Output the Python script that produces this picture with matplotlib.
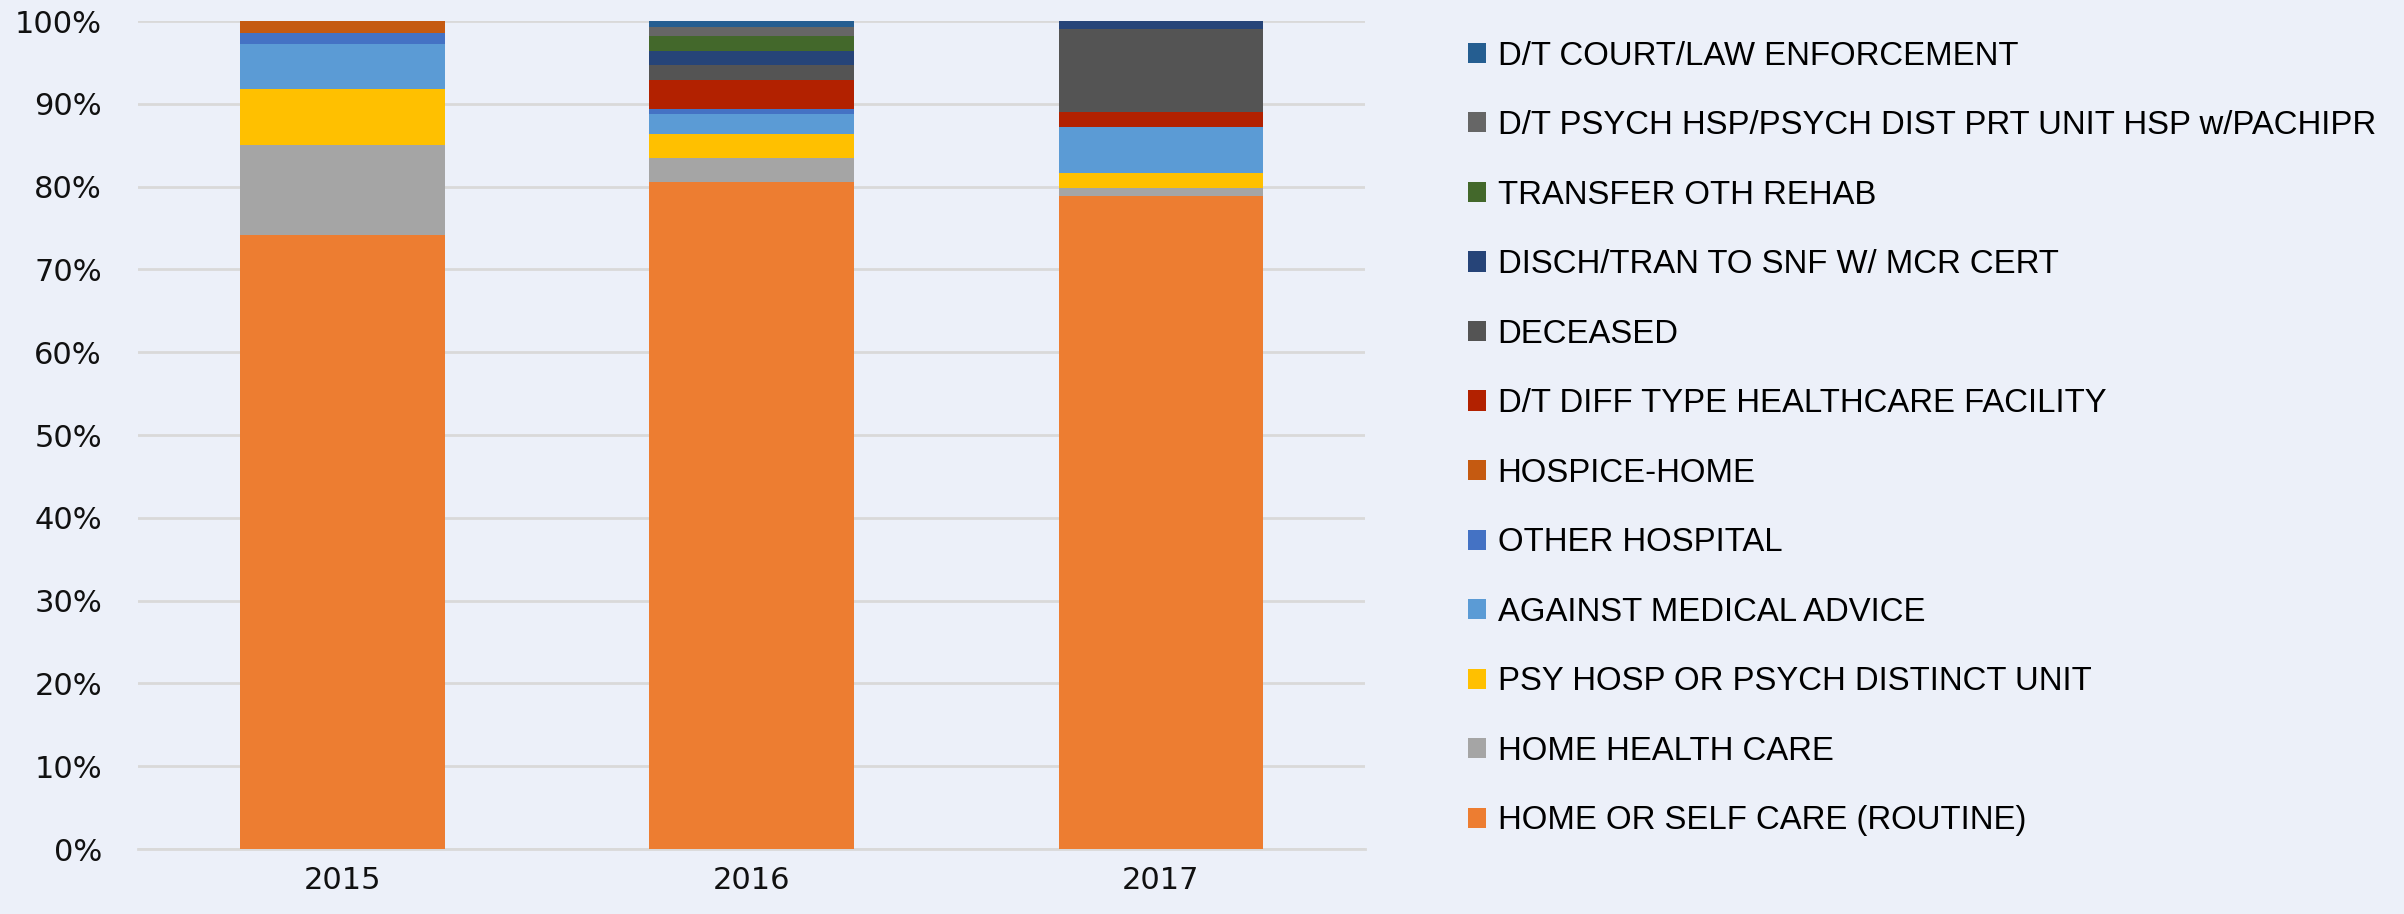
import numpy as np
import matplotlib.pyplot as plt
from matplotlib.patches import Patch
from matplotlib.ticker import PercentFormatter

# Données (en %), ordre d'empilement du bas vers le haut
annees = ['2015', '2016', '2017']
categories = [
    'HOME OR SELF CARE (ROUTINE)',
    'HOME HEALTH CARE',
    'PSY HOSP OR PSYCH DISTINCT UNIT',
    'AGAINST MEDICAL ADVICE',
    'OTHER HOSPITAL',
    'HOSPICE-HOME',
    'D/T DIFF TYPE HEALTHCARE FACILITY',
    'DECEASED',
    'DISCH/TRAN TO SNF W/ MCR CERT',
    'TRANSFER OTH REHAB',
    'D/T PSYCH HSP/PSYCH DIST PRT UNIT HSP w/PACHIPR',
    'D/T COURT/LAW ENFORCEMENT',
]
home_self = [74.2, 80.6, 78.9]
home_health = [10.8, 2.9, 0.9]
psy_hosp = [6.8, 2.9, 1.9]
ama = [5.4, 2.4, 5.5]
other_hosp = [1.3, 0.6, 0.0]
hospice = [1.5, 0.0, 0.0]
diff_type = [0.0, 3.5, 1.8]
deceased = [0.0, 1.8, 10.0]
snf = [0.0, 1.7, 1.0]
rehab = [0.0, 1.8, 0.0]
psych_hsp = [0.0, 1.1, 0.0]
court = [0.0, 0.7, 0.0]
series = [home_self, home_health, psy_hosp, ama, other_hosp, hospice,
          diff_type, deceased, snf, rehab, psych_hsp, court]
couleurs = ['#ED7D31', '#A5A5A5', '#FFC000', '#5B9BD5', '#4472C4', '#C55A11',
            '#B22100', '#545454', '#264478', '#43682B', '#666666', '#255E91']

fond = '#ECF0F9'
plt.rcParams['font.family'] = ['Liberation Sans', 'DejaVu Sans']

fig = plt.figure(figsize=(24.04, 9.14), dpi=100, facecolor=fond)
ax = fig.add_axes([0.0574, 0.0711, 0.5106, 0.9059])
ax.set_facecolor(fond)

x = np.arange(len(annees))
bas = np.zeros(len(annees))
for vals, c in zip(series, couleurs):
    vals = np.array(vals, dtype=float)
    ax.bar(x, vals, 0.5, bottom=bas, color=c, edgecolor='none', zorder=3)
    bas += vals

ax.set_xlim(-0.5, 2.5)
ax.set_ylim(0, 100)
ax.set_yticks(np.arange(0, 101, 10))
ax.yaxis.set_major_formatter(PercentFormatter(decimals=0))
ax.set_xticks(x)
ax.set_xticklabels(annees)
ax.grid(axis='y', color='#D9D9D9', linewidth=2, zorder=0)
for s in ax.spines.values():
    s.set_visible(False)
ax.spines['bottom'].set_visible(True)
ax.spines['bottom'].set_color('#D9D9D9')
ax.spines['bottom'].set_linewidth(2)
ax.tick_params(length=0, colors='#111111')
for lab in ax.get_xticklabels() + ax.get_yticklabels():
    lab.set_family(['DejaVu Sans'])
    lab.set_fontsize(22)
ax.tick_params(axis='y', pad=26)
ax.tick_params(axis='x', pad=12)

handles = [Patch(facecolor=c, edgecolor='none') for c in couleurs][::-1]
labels = categories[::-1]
leg = fig.legend(handles, labels, loc='upper left', bbox_to_anchor=(0.605, 0.970),
                 frameon=False, fontsize=23.7, handlelength=0.56, handleheight=0.56,
                 handletextpad=0.35, labelspacing=1.17, borderaxespad=0)

fig.savefig('out.png', dpi=100, facecolor=fond)
